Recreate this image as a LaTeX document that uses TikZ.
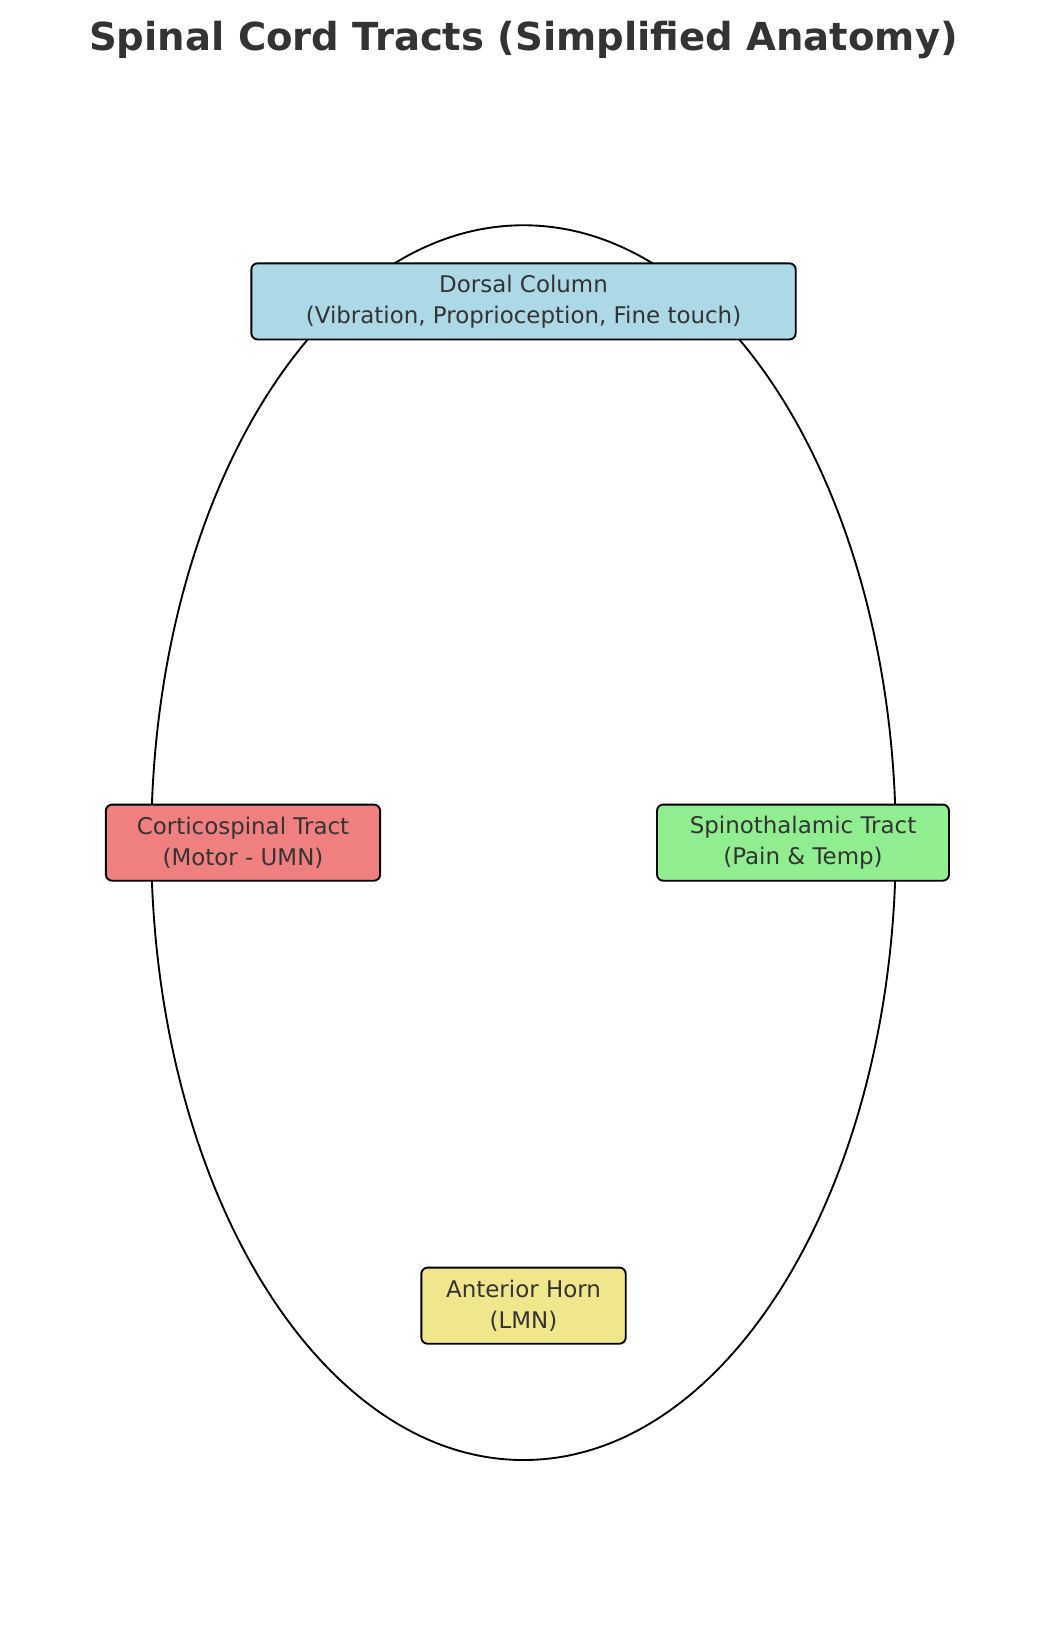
\documentclass[tikz,border=0pt]{standalone}
\usepackage{fontspec}
\setmainfont{DejaVu Sans}
\begin{document}
\begin{tikzpicture}[x=1pt,y=-1pt,
  box/.style={draw=black,line width=1.8pt,rounded corners=6pt,align=center,text=black!80,font=\fontsize{22}{30}\selectfont,inner sep=0pt}]
\useasboundingbox[fill=white] (0,0) rectangle (1000,1563);
\node[font=\bfseries\fontsize{37}{40}\selectfont,text=black!80] (title) at (502,38) {Spinal Cord Tracts (Simplified Anatomy)};
\draw[line width=1.8pt] (502,808) ellipse [x radius=357,y radius=592];
\node[box,fill={rgb,255:red,173;green,216;blue,230},minimum width=522,minimum height=73] (dc) at (502,289) {Dorsal Column\\(Vibration, Proprioception, Fine touch)};
\node[box,fill={rgb,255:red,240;green,128;blue,128},minimum width=263,minimum height=73] (cs) at (233,808) {Corticospinal Tract\\(Motor - UMN)};
\node[box,fill={rgb,255:red,144;green,238;blue,144},minimum width=280,minimum height=73] (st) at (770,808) {Spinothalamic Tract\\(Pain \& Temp)};
\node[box,fill={rgb,255:red,240;green,230;blue,140},minimum width=196,minimum height=73] (ah) at (502,1252) {Anterior Horn\\(LMN)};
\end{tikzpicture}
\end{document}
